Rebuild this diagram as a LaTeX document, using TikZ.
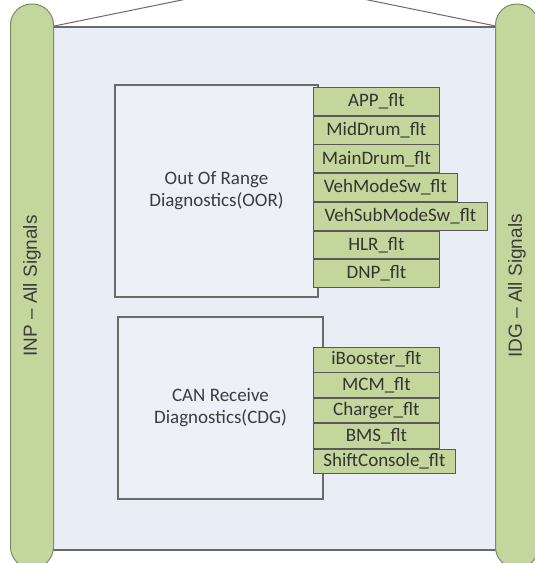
\documentclass[tikz,border=0pt]{standalone}
\usepackage{fontspec}
\setmainfont{Carlito}
\newfontfamily\pillarfont{Liberation Sans}
\usetikzlibrary{positioning}

\definecolor{pillargreen}{HTML}{C3D69B}
\definecolor{pillaredge}{HTML}{7D8C66}
\definecolor{panelfill}{HTML}{E9EDF5}
\definecolor{diagfill}{HTML}{EDF0F7}
\definecolor{edgegray}{HTML}{6A6A6A}
\definecolor{textgray}{HTML}{3C3C3C}

\tikzstyle{pillar} = [rectangle, rounded corners=21pt, rotate=90, minimum width=564pt, minimum height=43pt, draw=pillaredge, fill=pillargreen, line width=1pt, text=textgray, font=\pillarfont\fontsize{19}{22}\selectfont]
\tikzstyle{panel} = [rectangle, draw=edgegray, fill=panelfill, line width=1.2pt, minimum width=444pt, minimum height=523pt]
\tikzstyle{roof} = [draw=edgegray, line width=1pt]
\tikzstyle{diag} = [rectangle, draw=edgegray, fill=diagfill, line width=1.2pt, align=center, text=textgray, font=\fontsize{19}{22}\selectfont]
\tikzstyle{flt} = [rectangle, draw=black!65, fill=pillargreen, line width=0.8pt, inner sep=0pt, minimum width=126pt, minimum height=27.9pt, text=black!80, font=\fontsize{19}{22}\selectfont]
\tikzstyle{fltcan} = [flt, minimum height=24.6pt]

\begin{document}
\begin{tikzpicture}[x=1pt, y=-1pt]
		\useasboundingbox (0,0) rectangle (535,563);
		\clip (0,0) rectangle (535,563);
		% Frame
		\node (panel) [panel] at (275,288.5) {};
		\coordinate (apex) at (275,-19);
		\draw [roof] (panel.north west) -- (apex) -- (panel.north east);
		\node (inp) [pillar] at (32,286) {INP – All Signals};
		\node (idg) [pillar] at (517,286) {IDG – All Signals};
		% Out of range
		\node (oor) [diag, minimum width=203pt, minimum height=212pt] at (216.5,191) {Out Of Range\\Diagnostics(OOR)};
		\node (app) [flt, anchor=north west] at (313,87) {APP\_flt};
		\node (middrum) [flt, below right=0pt and 0pt of app.south west] {MidDrum\_flt};
		\node (maindrum) [flt, below right=0pt and 0pt of middrum.south west] {MainDrum\_flt};
		\node (vehmode) [flt, minimum width=144pt, below right=0pt and 0pt of maindrum.south west] {VehModeSw\_flt};
		\node (vehsubmode) [flt, minimum width=174pt, below right=0pt and 0pt of vehmode.south west] {VehSubModeSw\_flt};
		\node (hlr) [flt, below right=0pt and 0pt of vehsubmode.south west] {HLR\_flt};
		\node (dnp) [flt, below right=0pt and 0pt of hlr.south west] {DNP\_flt};
		% CAN receive
		\node (cdg) [diag, minimum width=205pt, minimum height=182pt] at (220.5,408) {CAN Receive\\Diagnostics(CDG)};
		\node (ibooster) [fltcan, anchor=north west] at (313,347) {iBooster\_flt};
		\node (mcm) [fltcan, below right=0pt and 0pt of ibooster.south west] {MCM\_flt};
		\node (charger) [fltcan, below right=0pt and 0pt of mcm.south west] {Charger\_flt};
		\node (bms) [fltcan, below right=0pt and 0pt of charger.south west] {BMS\_flt};
		\node (shiftconsole) [fltcan, minimum width=142pt, below right=0pt and 0pt of bms.south west] {ShiftConsole\_flt};
	\end{tikzpicture}
\end{document}
